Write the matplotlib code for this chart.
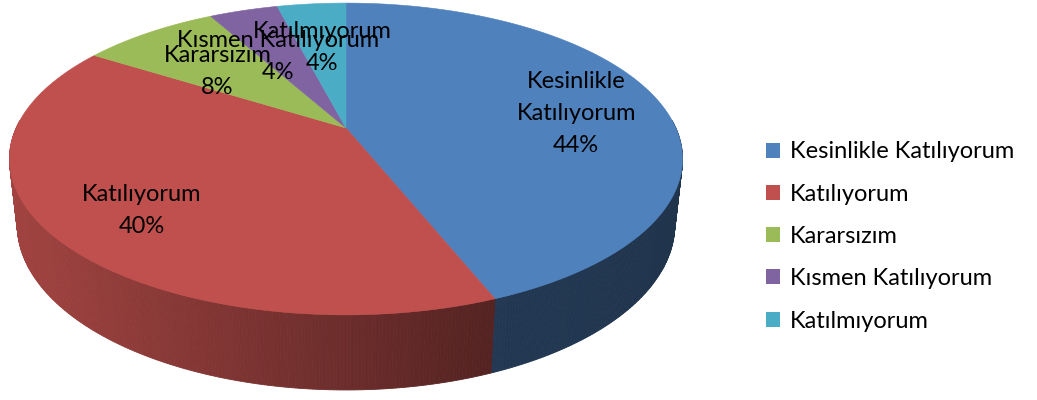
import numpy as np
import matplotlib
matplotlib.use("Agg")
import matplotlib.pyplot as plt
from matplotlib.patches import Polygon, Patch
from matplotlib.colors import to_rgb

# ---- data -------------------------------------------------------------
categories = ["Kesinlikle Katılıyorum", "Katılıyorum", "Kararsızım",
              "Kısmen Katılıyorum", "Katılmıyorum"]
values = [44, 40, 8, 4, 4]
slice_labels = ["Kesinlikle\nKatılıyorum", "Katılıyorum", "Kararsızım",
                "Kısmen Katılıyorum", "Katılmıyorum"]

# ---- style ------------------------------------------------------------
colors = ["#4F81BD", "#C0504D", "#9BBB59", "#8064A2", "#4BACC6"]
label_radius = [0.73, 0.73, 0.62, 0.62, 0.65]
LABEL_DY = 5.5              # small downward nudge of the slice labels (px)
FONT = ["Lato", "DejaVu Sans"]
FS = 17

W, Hpx = 1037, 400
fig = plt.figure(figsize=(W / 100, Hpx / 100), dpi=100)
ax = fig.add_axes([0, 0, 1, 1])
ax.set_xlim(0, W)
ax.set_ylim(Hpx, 0)
ax.axis("off")

# ---- perspective camera for the 3-D disc ------------------------------
CX, CY = 346.0, 128.0       # projected centre of the top face
F = 1479.0                  # focal length
L = 4.484                   # camera distance (disc radius = 1)
ALPHA = np.radians(27.0)    # elevation
THICK = 0.225               # disc thickness


def project(u, v, z):
    depth = L + v * np.cos(ALPHA) - z * np.sin(ALPHA)
    sy = v * np.sin(ALPHA) + z * np.cos(ALPHA)
    return CX + F * u / depth, CY - F * sy / depth


def shade(x):
    return np.interp(x, [10, 490, 690], [0.84, 0.44, 0.40])


total = float(sum(values))
fracs = np.array(values) / total
edges = np.concatenate([[0], np.cumsum(fracs)]) * 2 * np.pi  # clockwise from top

# ---- side wall strips (far first) --------------------------------------
strips = []
for i, col in enumerate(colors):
    t0, t1 = edges[i], edges[i + 1]
    n = max(4, int(np.ceil((t1 - t0) / np.radians(0.5))))
    ts = np.linspace(t0, t1, n + 1)
    base = np.array(to_rgb(col))
    for a, b in zip(ts[:-1], ts[1:]):
        m = 0.5 * (a + b)
        if np.cos(m) > 0.05:
            continue
        ua, va = np.sin(a), np.cos(a)
        ub, vb = np.sin(b), np.cos(b)
        xa0, ya0 = project(ua, va, 0)
        xb0, yb0 = project(ub, vb, 0)
        xa1, ya1 = project(ua, va, -THICK)
        xb1, yb1 = project(ub, vb, -THICK)
        xm = 0.5 * (xa0 + xb0)
        c = np.clip(base * shade(xm), 0, 1)
        strips.append((np.cos(m), [(xa0, ya0), (xb0, yb0), (xb1, yb1), (xa1, ya1)], c))

strips.sort(key=lambda s: -s[0])
for _, pts, c in strips:
    ax.add_patch(Polygon(pts, closed=True, facecolor=c, edgecolor=c,
                         linewidth=0.6, antialiased=True))

# ---- top face wedges --------------------------------------------------
for i, col in enumerate(colors):
    t0, t1 = edges[i], edges[i + 1]
    ts = np.linspace(t0, t1, max(8, int((t1 - t0) / np.radians(0.5))))
    xs, ys = project(np.sin(ts), np.cos(ts), 0)
    pts = [(CX, CY)] + list(zip(xs, ys))
    ax.add_patch(Polygon(pts, closed=True, facecolor=col, edgecolor=col,
                         linewidth=0.4))

# ---- slice labels -----------------------------------------------------
for i, lab in enumerate(slice_labels):
    m = 0.5 * (edges[i] + edges[i + 1])
    r = label_radius[i]
    x, y = project(r * np.sin(m), r * np.cos(m), 0)
    ax.text(x, y + LABEL_DY, f"{lab}\n{values[i]:.0f}%", ha="center",
            va="center", fontsize=FS, family=FONT, color="black",
            linespacing=1.65, multialignment="center")

# ---- legend -----------------------------------------------------------
handles = [Patch(facecolor=c, edgecolor="none") for c in colors]
leg = ax.legend(handles, categories, loc="upper left",
                bbox_to_anchor=(766 / W, 1 - 141.5 / Hpx),
                frameon=False, prop={"family": FONT, "size": FS},
                handlelength=0.6, handleheight=0.6, handletextpad=0.42,
                labelspacing=0.9, borderaxespad=0, borderpad=0)

fig.savefig("out.png", dpi=100)
